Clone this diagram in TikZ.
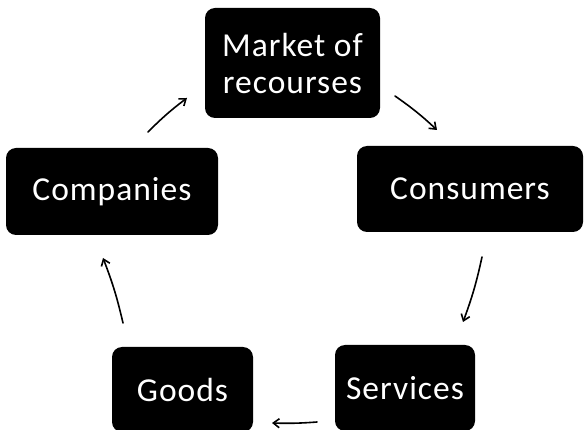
\documentclass[tikz,border=0pt]{standalone}
\usepackage{fontspec}
\setmainfont[LetterSpace=3]{Carlito}
\usetikzlibrary{arrows.meta}
\begin{document}
\begin{tikzpicture}[x=1pt,y=-1pt,
  box/.style={fill=black, rounded corners=10pt, text=white,
    font=\fontsize{33.5}{37}\selectfont, align=center, inner sep=0pt},
  flow/.style={line width=1.6pt, line cap=round,
    -{Straight Barb[length=6pt,width=9pt]}}]
\useasboundingbox (0,0) rectangle (587,430);
\fill[white] (0,0) rectangle (587,430);
\node[box, minimum width=175pt, minimum height=110pt] (market) at (292.5,63) {Market of\\recourses};
\node[box, minimum width=212pt, minimum height=87pt] (companies) at (112,191.5) {Companies};
\node[box, minimum width=226pt, minimum height=86pt] (consumers) at (470,189) {Consumers};
\node[box, minimum width=141pt, minimum height=85pt] (goods) at (182.5,389.5) {Goods};
\node[box, minimum width=140pt, minimum height=86pt] (services) at (405,388) {Services};
\coordinate (a1) at (148,132);
\coordinate (a2) at (187,98);
\coordinate (b1) at (395,96);
\coordinate (b2) at (437,130);
\coordinate (c1) at (482,257);
\coordinate (c2) at (463,322);
\coordinate (d1) at (317,422);
\coordinate (d2) at (272,423);
\coordinate (e1) at (123,323);
\coordinate (e2) at (103,258);
\draw[flow] (a1) to[bend left=4] (a2);
\draw[flow] (b1) to[bend left=4] (b2);
\draw[flow] (c1) to[bend left=4] (c2);
\draw[flow] (d1) to[bend left=3] (d2);
\draw[flow] (e1) to[bend right=4] (e2);
\end{tikzpicture}
\end{document}
